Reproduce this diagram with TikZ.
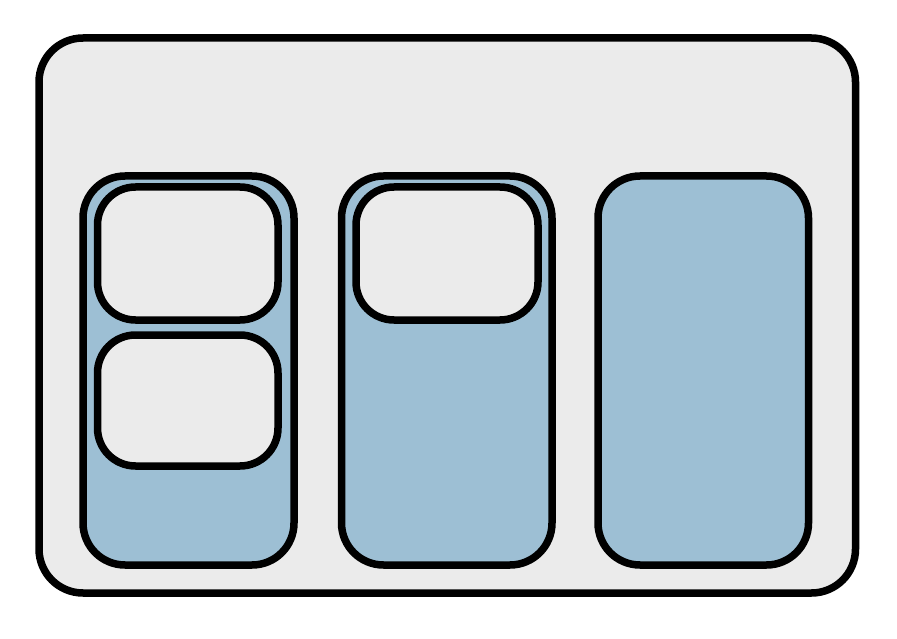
\documentclass[tikz,border=0pt]{standalone}
\definecolor{panelgray}{HTML}{EBEBEB}
\definecolor{slotblue}{HTML}{9DBFD4}
\tikzset{
  frame/.style={draw=black,line width=7.5pt,fill=panelgray,rounded corners=44pt},
  column/.style={draw=black,line width=7.5pt,fill=slotblue,rounded corners=42pt},
  cell/.style={draw=black,line width=7.5pt,fill=panelgray,rounded corners=38pt}
}
\begin{document}
\begin{tikzpicture}[x=1pt,y=-1pt]
\useasboundingbox (0,0) rectangle (897,639);
\draw[frame] (39,38) rectangle (855.5,593);
% three columns
\draw[column] (83,176) rectangle (294,565);
\draw[column] (341.5,176) rectangle (552,565);
\draw[column] (598,176) rectangle (808.5,565);
% cells in the columns
\draw[cell] (97.5,187) rectangle (278,320);
\draw[cell] (97.5,335) rectangle (278,466);
\draw[cell] (356,187) rectangle (538,320);
\end{tikzpicture}
\end{document}
